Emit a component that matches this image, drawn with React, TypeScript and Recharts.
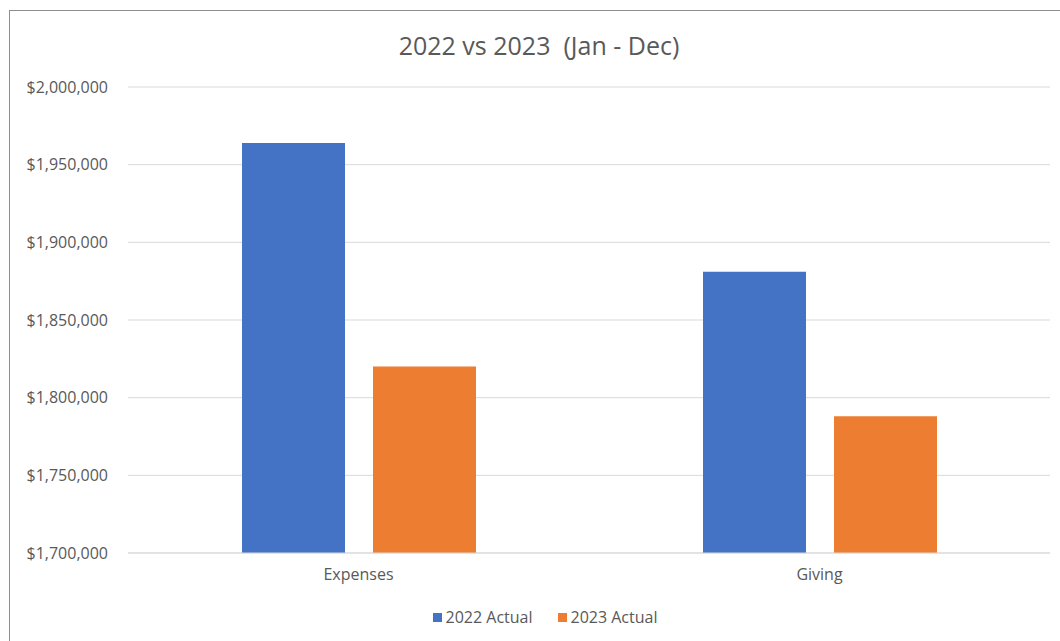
import { Bar, BarChart, CartesianGrid, Legend, XAxis, YAxis } from 'recharts';

const categories = ['Expenses', 'Giving'];
const actual2022 = [1964000, 1881000];
const actual2023 = [1820000, 1788000];
const yTicks = [1700000, 1750000, 1800000, 1850000, 1900000, 1950000, 2000000];
const seriesNames = ['2022 Actual', '2023 Actual'];

const data = categories.map((name, i) => ({
	name,
	a2022: actual2022[i],
	a2023: actual2023[i],
}));

const textColor = '#595959';
const font = '"Open Sans", sans-serif';

const money = (v: number) => '$' + v.toLocaleString('en-US');

function LegendBox(props: any) {
	const items = props.payload || [];
	return (
		<div style={{ display: 'flex', justifyContent: 'center', gap: 25, fontFamily: font, fontSize: 16, color: textColor }}>
			{items.map((it: any) => (
				<div key={it.value} style={{ display: 'flex', alignItems: 'center' }}>
					<span style={{ width: 9, height: 9, background: it.color, marginRight: 4, display: 'inline-block' }} />
					<span>{it.value}</span>
				</div>
			))}
		</div>
	);
}

export default function App() {
	return (
		<div style={{ position: 'absolute', left: 0, top: 0, width: 1060, height: 641, background: '#fff', overflow: 'hidden' }}>
			<div
				style={{
					position: 'absolute',
					left: 9,
					top: 10,
					right: 0,
					bottom: 0,
					borderTop: '1px solid #8e8e8e',
					borderLeft: '1px solid #8e8e8e',
				}}
			/>
			<div
				style={{
					position: 'absolute',
					left: 0,
					top: 28,
					width: 1078,
					textAlign: 'center',
					fontFamily: font,
					fontSize: 25,
					color: textColor,
					whiteSpace: 'pre',
				}}
			>
				{'2022 vs 2023  (Jan - Dec)'}
			</div>
			<div style={{ position: 'absolute', left: 0, top: 0 }}>
				<BarChart width={1060} height={641} data={data} margin={{ top: 87, right: 10, bottom: 0, left: 0 }} barSize={103} barGap={28}>
					<CartesianGrid vertical={false} stroke='#d9d9d9' />
					<XAxis
						dataKey='name'
						height={88}
						axisLine={{ stroke: '#d9d9d9' }}
						tickLine={false}
						tickMargin={10}
						tick={{ fill: textColor, fontSize: 16, fontFamily: font }}
					/>
					<YAxis
						width={128}
						domain={[1700000, 2000000]}
						ticks={yTicks}
						tickFormatter={money}
						axisLine={false}
						tickLine={false}
						tickMargin={14}
						tick={{ fill: textColor, fontSize: 16, fontFamily: font }}
					/>
					<Legend
						layout='horizontal'
						verticalAlign='middle'
						align='center'
						content={LegendBox}
						wrapperStyle={{ top: 606, left: 0, width: 1090 }}
					/>
					<Bar dataKey='a2022' name={seriesNames[0]} fill='#4472c4' isAnimationActive={false} />
					<Bar dataKey='a2023' name={seriesNames[1]} fill='#ed7d31' isAnimationActive={false} />
				</BarChart>
			</div>
		</div>
	);
}
